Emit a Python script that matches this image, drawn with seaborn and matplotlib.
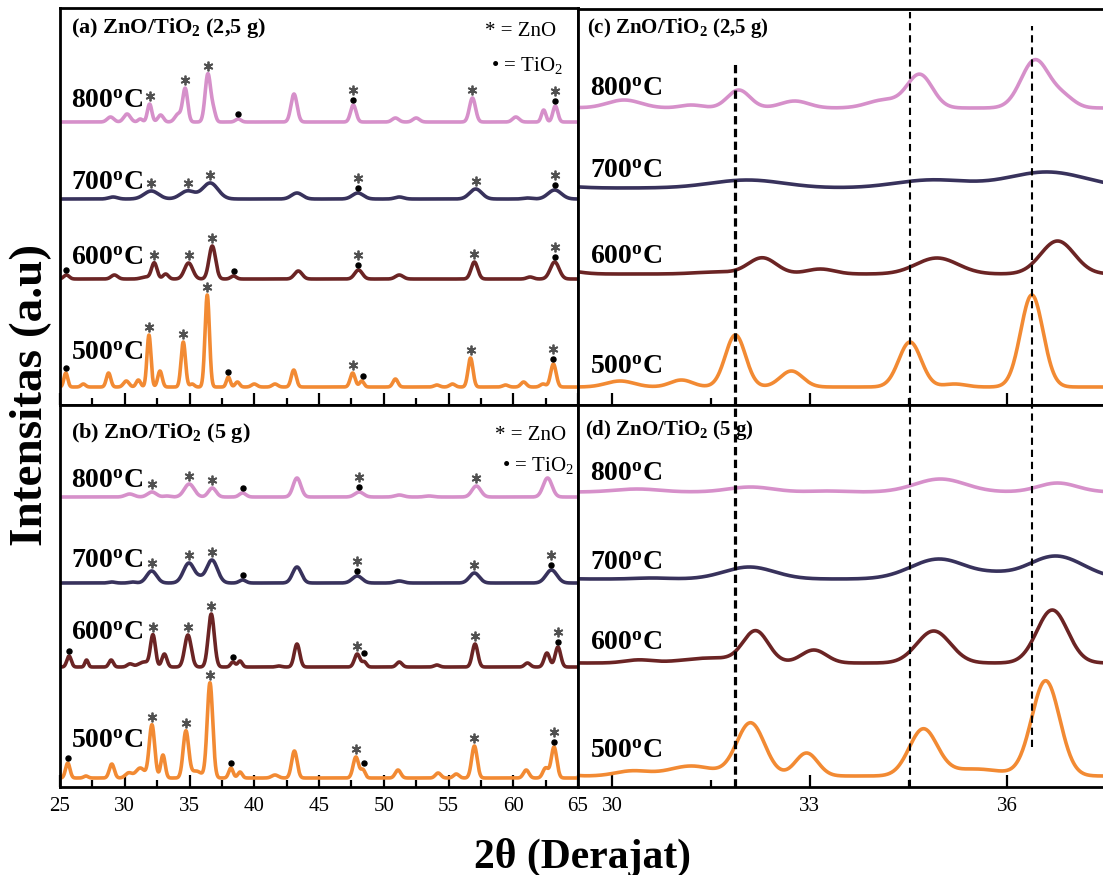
import numpy as np
import matplotlib
matplotlib.use("Agg")
import matplotlib.pyplot as plt
import seaborn as sns

sns.set_theme(style="ticks")
plt.rcParams["font.family"] = ["Liberation Serif", "DejaVu Serif"]
plt.rcParams["mathtext.fontset"] = "custom"
plt.rcParams["mathtext.rm"] = "Liberation Serif"
plt.rcParams["mathtext.bf"] = "Liberation Serif:bold"
plt.rcParams["mathtext.it"] = "Liberation Serif:italic"
plt.rcParams["mathtext.default"] = "regular"
plt.rcParams["text.color"] = "black"
plt.rcParams["xtick.color"] = "black"
plt.rcParams["xtick.labelcolor"] = "black"

# ---------------- data: XRD peaks ----------------
# position (2theta, deg), height (a.u.), FWHM (deg)
# ZnO/TiO2 (2,5 g)
A500_pos = [25.45, 26.8, 28.75, 30.12, 31.05, 31.87, 32.72, 34.52, 35.2, 36.37, 38.0, 38.7, 40.0, 41.6,
            43.05, 47.6, 48.3, 50.9, 54.1, 55.3, 56.7, 59.4, 60.8, 62.3, 63.1]
A500_h = [14, 3, 14, 6, 7, 52, 16, 45, 3, 92, 10, 5, 3, 3, 17, 14, 6, 8, 2, 3, 29, 2, 5, 3, 23]
A500_w = [0.35, 0.4, 0.4, 0.5, 0.4, 0.36, 0.4, 0.4, 0.4, 0.4, 0.35, 0.4, 0.5, 0.5, 0.45, 0.45, 0.4,
          0.45, 0.5, 0.5, 0.45, 0.5, 0.5, 0.5, 0.5]

A600_pos = [25.5, 29.2, 31.6, 32.28, 33.16, 34.93, 36.76, 38.4, 43.4, 48.05, 51.2, 57.0, 61.3, 63.2]
A600_h = [4, 4, 2, 16, 5, 16, 33, 3, 8, 9, 4, 17, 2, 17]
A600_w = [0.5, 0.6, 0.8, 0.5, 0.5, 0.75, 0.6, 0.5, 0.7, 0.7, 0.7, 0.6, 0.6, 0.8]

A700_pos = [29.1, 32.05, 34.85, 36.6, 43.3, 48.0, 51.2, 57.1, 61.1, 63.2]
A700_h = [2, 8, 8, 16, 6, 6, 2, 10, 1, 9]
A700_w = [0.8, 1.3, 1.3, 1.4, 1.0, 1.0, 0.8, 1.1, 0.8, 1.2]

A800_pos = [28.9, 30.18, 31.2, 31.92, 32.77, 34.13, 34.67, 36.42, 36.85, 38.76, 43.07, 47.65, 50.9,
            52.5, 56.85, 60.2, 62.35, 63.25]
A800_h = [5, 8, 3, 18, 7, 8, 33, 48, 10, 3, 28, 17, 4, 4, 24, 5, 12, 16]
A800_w = [0.6, 0.6, 0.4, 0.4, 0.5, 0.6, 0.45, 0.5, 0.4, 0.5, 0.55, 0.5, 0.6, 0.6, 0.55, 0.6, 0.4, 0.45]

# ZnO/TiO2 (5 g)
B500_pos = [25.6, 27.0, 29.0, 30.3, 31.2, 32.1, 32.95, 34.72, 35.5, 36.58, 38.2, 38.9, 41.6, 43.1,
            47.85, 48.4, 51.1, 54.2, 55.6, 57.0, 61.0, 62.5, 63.15]
B500_h = [15, 2, 14, 5, 10, 53, 23, 46, 7, 95, 10, 6, 3, 27, 21, 8, 8, 5, 4, 32, 8, 10, 31]
B500_w = [0.4, 0.4, 0.45, 0.6, 0.8, 0.5, 0.4, 0.5, 1.0, 0.5, 0.4, 0.4, 0.6, 0.5, 0.5, 0.4, 0.5, 0.5,
          0.5, 0.5, 0.5, 0.5, 0.5]

B600_pos = [25.7, 27.05, 28.95, 30.4, 31.5, 32.18, 33.06, 34.88, 36.68, 38.35, 38.9, 41.9, 43.3, 47.95,
            48.5, 51.2, 54.1, 57.05, 61.1, 62.6, 63.45]
B600_h = [11, 7, 7, 3, 5, 31, 13, 32, 53, 5, 6, 1, 23, 13, 5, 5, 2, 23, 4, 14, 20]
B600_w = [0.4, 0.3, 0.4, 0.5, 1.0, 0.45, 0.45, 0.6, 0.55, 0.4, 0.4, 0.5, 0.5, 0.5, 0.4, 0.5, 0.5, 0.5,
          0.5, 0.5, 0.5]

B700_pos = [29.0, 30.6, 32.08, 34.96, 35.8, 36.73, 39.1, 43.3, 47.95, 51.2, 57.0, 62.95]
B700_h = [1, 1, 12, 20, 3, 23, 3, 16, 7, 2, 10, 13]
B700_w = [0.6, 0.6, 0.9, 1.0, 0.6, 1.0, 0.6, 0.8, 0.9, 0.8, 0.9, 1.0]

B800_pos = [30.38, 32.1, 33.26, 34.98, 36.76, 39.1, 43.3, 48.1, 51.2, 53.5, 57.15, 62.65]
B800_h = [3, 5, 1, 13, 9, 4, 19, 5, 2, 1, 11, 19]
B800_w = [0.8, 0.8, 0.6, 0.9, 0.7, 0.6, 0.7, 0.8, 0.8, 0.8, 0.8, 0.8]

# peak markers (* = ZnO, • = TiO2)
A500_star = [31.87, 34.52, 36.37, 47.6, 56.7, 63.1]
A500_dot = [25.45, 38.0, 48.4, 63.1]
A600_star = [32.28, 34.93, 36.76, 48.05, 57.0, 63.2]
A600_dot = [25.5, 38.4, 48.05, 63.2]
A700_star = [32.05, 34.85, 36.6, 48.0, 57.1, 63.2]
A700_dot = [48.0, 63.2]
A800_star = [31.92, 34.67, 36.42, 47.65, 56.85, 63.25]
A800_dot = [38.76, 47.65, 63.25]
B500_star = [32.1, 34.72, 36.58, 47.85, 57.0, 63.15]
B500_dot = [25.6, 38.2, 48.5, 63.15]
B600_star = [32.18, 34.88, 36.68, 47.95, 57.05, 63.45]
B600_dot = [25.7, 38.35, 48.5, 63.45]
B700_star = [32.08, 34.96, 36.73, 47.95, 57.0, 62.95]
B700_dot = [39.1, 47.95, 62.95]
B800_star = [32.1, 34.98, 36.76, 48.1, 57.15]
B800_dot = [39.1, 48.1]

temps = ["500", "600", "700", "800"]
ref_lines = [31.87, 34.52, 36.37]
left_ticks_major = 5
right_ticks_major = 3

colors = {"500": "#F28A33", "600": "#6B2424", "700": "#38325C", "800": "#D690CA"}

DATA = {
    "A": {"500": (A500_pos, A500_h, A500_w), "600": (A600_pos, A600_h, A600_w),
          "700": (A700_pos, A700_h, A700_w), "800": (A800_pos, A800_h, A800_w)},
    "B": {"500": (B500_pos, B500_h, B500_w), "600": (B600_pos, B600_h, B600_w),
          "700": (B700_pos, B700_h, B700_w), "800": (B800_pos, B800_h, B800_w)},
}
MARKS = {
    "A": {"500": (A500_star, A500_dot), "600": (A600_star, A600_dot),
          "700": (A700_star, A700_dot), "800": (A800_star, A800_dot)},
    "B": {"500": (B500_star, B500_dot), "600": (B600_star, B600_dot),
          "700": (B700_star, B700_dot), "800": (B800_star, B800_dot)},
}


def pattern(x, pos, h, w):
    p = np.asarray(pos, float)[:, None]
    hh = np.asarray(h, float)[:, None]
    ww = np.asarray(w, float)[:, None]
    return (hh * np.exp(-4 * np.log(2) * (x[None, :] - p) ** 2 / ww ** 2)).sum(axis=0)


x = np.arange(24.8, 65.3, 0.01)

W, H = 1103, 875
fig = plt.figure(figsize=(W / 100, H / 100), dpi=100)


def rect(l, t, r, b):
    return [l / W, 1 - b / H, (r - l) / W, (b - t) / H]


ax_a = fig.add_axes(rect(60, 8, 578, 405))
ax_b = fig.add_axes(rect(60, 405, 578, 787))
ax_c = fig.add_axes(rect(578, 9, 1103, 405))
ax_d = fig.add_axes(rect(578, 405, 1103, 787))

# vertical offsets (a.u.) of each pattern in each panel
offsets = {
    "a": {"800": 283, "700": 206, "600": 126, "500": 18},
    "b": {"800": 290, "700": 204, "600": 120, "500": 9},
    "c": {"800": 297, "700": 217, "600": 131, "500": 18},
    "d": {"800": 295, "700": 208, "600": 124, "500": 11},
}
panels = [(ax_a, "a", "A", 397), (ax_b, "b", "B", 382), (ax_c, "c", "A", 396), (ax_d, "d", "B", 382)]

for ax, key, ds, ytop in panels:
    for t in temps:
        y = pattern(x, *DATA[ds][t]) + offsets[key][t]
        sns.lineplot(x=x, y=y, ax=ax, color=colors[t], lw=2.6, sort=False, estimator=None)
        if key in ("a", "b"):
            stars, dots = MARKS[ds][t]
            sx, sy, dx, dy = [], [], [], []
            for xs in stars:
                m = (x > xs - 0.35) & (x < xs + 0.35)
                top = y[m].max()
                sx.append(xs)
                sy.append(top + (15 if xs in dots else 8))
            for xd in dots:
                m = (x > xd - 0.35) & (x < xd + 0.35)
                top = y[m].max()
                dx.append(xd)
                dy.append(top + 5)
            ax.plot(sx, sy, ls="none", marker=(6, 2, 0), ms=7, mew=1.3, color="#505050", zorder=5)
            ax.plot(dx, dy, ls="none", marker="o", ms=3.6, color="black", zorder=5)
    ax.set_ylim(0, ytop)
    ax.set_xlabel("")
    ax.set_ylabel("")
    ax.set_yticks([])
    for sp in ax.spines.values():
        sp.set_linewidth(2.0)
        sp.set_color("black")

for ax in (ax_a, ax_b):
    ax.set_xlim(25, 65)
    ax.xaxis.set_major_locator(matplotlib.ticker.MultipleLocator(left_ticks_major))
    ax.xaxis.set_minor_locator(matplotlib.ticker.MultipleLocator(left_ticks_major / 2))
for ax in (ax_c, ax_d):
    ax.set_xlim(29.48, 37.45)
    ax.xaxis.set_major_locator(matplotlib.ticker.MultipleLocator(right_ticks_major))
    ax.xaxis.set_minor_locator(matplotlib.ticker.MultipleLocator(right_ticks_major / 2))
    ax.spines["right"].set_visible(False)

for ax in (ax_a, ax_b, ax_c, ax_d):
    ax.tick_params(axis="x", which="major", direction="in", length=9, width=1.6, pad=7,
                   labelsize=15, colors="black", top=False, bottom=True)
    ax.tick_params(axis="x", which="minor", direction="in", length=5, width=1.6, top=False, bottom=True)
    ax.tick_params(axis="y", left=False, right=False)
ax_a.tick_params(labelbottom=False)
ax_c.tick_params(labelbottom=False)

# dashed reference lines
dash_styles = [dict(lw=2.3, ls=(0, (2.6, 1.4))), dict(lw=1.5, ls=(0, (3.5, 2.3))),
               dict(lw=1.5, ls=(0, (3.5, 2.3)))]
c_tops = [0.861, 0.992, 0.957]
d_bottoms = [0.0, 0.0, 0.105]
for xl, st, ct, db in zip(ref_lines, dash_styles, c_tops, d_bottoms):
    ax_c.axvline(xl, ymin=0, ymax=ct, color="black", zorder=6, **st)
    ax_d.axvline(xl, ymin=db, ymax=1, color="black", zorder=6, **st)


def ftext(px, py, s, **kw):
    fig.text(px / W, 1 - py / H, s, **kw)


# panel titles
ftext(71, 28, "(a) ZnO/TiO$_2$ (2,5 g)", fontsize=16, fontweight="bold", va="center")
ftext(71, 433, "(b) ZnO/TiO$_2$ (5 g)", fontsize=16, fontweight="bold", va="center")
ftext(587, 28, "(c) ZnO/TiO$_2$ (2,5 g)", fontsize=15, fontweight="bold", va="center")
ftext(585, 430, "(d) ZnO/TiO$_2$ (5 g)", fontsize=15, fontweight="bold", va="center")

# phase keys
ftext(556, 32, "* = ZnO", fontsize=15, ha="right", va="center")
ftext(563, 65, "• = TiO$_2$", fontsize=15, ha="right", va="center")
ftext(566, 436, "* = ZnO", fontsize=15, ha="right", va="center")
ftext(574, 466, "• = TiO$_2$", fontsize=15, ha="right", va="center")

# temperature labels
label_y = {
    "a": (71, {"800": 102, "700": 184, "600": 258, "500": 354}),
    "b": (71, {"800": 482, "700": 562, "600": 633, "500": 741}),
    "c": (590, {"800": 90, "700": 172, "600": 257, "500": 367}),
    "d": (590, {"800": 475, "700": 563, "600": 643, "500": 752}),
}
for key, (lx, ys) in label_y.items():
    for t, ly in ys.items():
        ftext(lx, ly, t + "$^{o}$C", fontsize=20, fontweight="bold", va="center", ha="left")

ftext(31, 395, "Intensitas (a.u)", fontsize=34, fontweight="bold", rotation=90, ha="center", va="center")
ftext(583, 857, "2θ (Derajat)", fontsize=30, fontweight="bold", ha="center", va="center")

fig.savefig("out.png", dpi=100)
